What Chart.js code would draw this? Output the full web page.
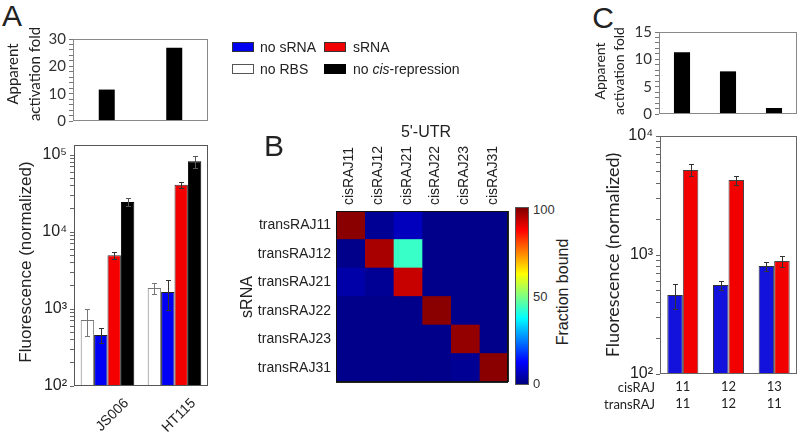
<!DOCTYPE html>
<html><head><meta charset="utf-8">
<script src="https://cdn.jsdelivr.net/npm/chart.js@4.4.0/dist/chart.umd.min.js"></script>
<style>
body{margin:0;background:#fff;width:805px;height:433px;overflow:hidden;position:relative;font-family:"Liberation Sans",Arial,sans-serif;color:#222}
canvas{position:absolute}
.t{position:absolute;white-space:nowrap;line-height:1}
.sw{position:absolute;width:20px;height:8px;box-sizing:content-box}
</style></head><body>
<canvas id="cAtop" width="174" height="110" style="left:38px;top:25px"></canvas>
<canvas id="cAbot" width="174" height="301" style="left:38px;top:132px"></canvas>
<canvas id="cHeat" width="262" height="267" style="left:250px;top:130px"></canvas>
<canvas id="cCtop" width="176" height="110" style="left:625px;top:18px"></canvas>
<canvas id="cCbot" width="181" height="310" style="left:620px;top:123px"></canvas>
<div id="cbar" style="position:absolute;left:515px;top:207px;width:12px;height:176px;border:1px solid #555;background:linear-gradient(to top,#000080 0%,#0000ff 12.5%,#00ffff 37.5%,#ffff00 62.5%,#ff0000 87.5%,#800000 100%)"></div>
<script>
// ---------------- data ----------------
const groupsA = ['JS006', 'HT115'];
const foldA = [11.5, 26.8];
const noRBS_A = [720, 1870];      const noRBS_A_err = [280, 280];
const noSRNA_A = [460, 1660];     const noSRNA_A_err = [100, 700];
const sRNA_A = [5000, 41000];     const sRNA_A_err = [550, 4000];
const noCis_A = [24500, 83000];   const noCis_A_err = [2800, 15000];

const cisC = ['11', '12', '13'];
const transC = ['11', '12', '11'];
const foldC = [11.3, 7.8, 1.1];
const noSRNA_C = [461, 560, 809]; const noSRNA_C_err = [110, 50, 70];
const sRNA_C = [5180, 4270, 890]; const sRNA_C_err = [600, 380, 100];

const cisCols = ['cisRAJ11', 'cisRAJ12', 'cisRAJ21', 'cisRAJ22', 'cisRAJ23', 'cisRAJ31'];
const transRows = ['transRAJ11', 'transRAJ12', 'transRAJ21', 'transRAJ22', 'transRAJ23', 'transRAJ31'];
const bound = [
  [99, 2, 6, 1, 1, 1],
  [1, 96, 43, 1, 1, 1],
  [4, 2, 93, 1, 1, 1],
  [1, 1, 1, 99, 1, 1],
  [1, 1, 1, 1, 98, 1],
  [1, 1, 1, 1, 2, 99]
];
const foldTicksA = [0, 10, 20, 30];
const foldTicksC = [0, 5, 10, 15];

// ---------------- helpers ----------------
const SANS = "'Liberation Sans', Arial, sans-serif";
const LATO = "Lato, 'Liberation Sans', sans-serif";
const SUP = {2: '\u00b2', 3: '\u00b3', 4: '\u2074', 5: '\u2075'};
function jet(v) {
  const x = v / 100;
  const c = t => Math.round(255 * Math.max(0, Math.min(1, 1.5 - Math.abs(4 * x - t))));
  return `rgb(${c(3)},${c(2)},${c(1)})`;
}
function logTicks(scale) {
  const t = [];
  const e0 = Math.floor(Math.log10(scale.min) + 1e-9), e1 = Math.ceil(Math.log10(scale.max) - 1e-9);
  for (let e = e0; e <= e1; e++) for (let d = 1; d <= 9; d++) {
    const v = d * Math.pow(10, e);
    if (v >= scale.min - 1e-6 && v <= scale.max + 1e-6) t.push({value: v});
  }
  scale.ticks = t;
}
function logLabel(v) {
  const l = Math.log10(v);
  const r = Math.round(l);
  return Math.abs(l - r) < 1e-6 ? '10' + (SUP[r] || r) : '';
}
const framePlugin = {
  id: 'frame',
  afterDraw(chart, args, opts) {
    const {ctx, chartArea: a} = chart;
    ctx.save();
    ctx.strokeStyle = opts.color || '#666';
    ctx.lineWidth = 1;
    const l = Math.round(a.left) + 0.5, t = Math.round(a.top) + 0.5;
    const r = Math.round(a.right) - 0.5, b = Math.round(a.bottom) - 0.5;
    ctx.strokeRect(l, t, r - l, b - t);
    ctx.restore();
  }
};
const errPlugin = {
  id: 'errbars',
  afterDatasetsDraw(chart) {
    const ctx = chart.ctx;
    chart.data.datasets.forEach((ds, di) => {
      if (!ds.errors) return;
      const meta = chart.getDatasetMeta(di);
      const ys = chart.scales[meta.yAxisID];
      ctx.save();
      ctx.strokeStyle = ds.errorColor || '#333';
      ctx.lineWidth = 1;
      meta.data.forEach((bar, i) => {
        const v = ds.data[i], e = ds.errors[i];
        const x = Math.round(bar.x) + 0.5;
        const yt = Math.round(ys.getPixelForValue(v + e)) + 0.5;
        const yb = Math.round(ys.getPixelForValue(v - e)) + 0.5;
        ctx.beginPath();
        ctx.moveTo(x, yt); ctx.lineTo(x, yb);
        ctx.moveTo(x - 2.5, yt); ctx.lineTo(x + 2.5, yt);
        ctx.moveTo(x - 2.5, yb); ctx.lineTo(x + 2.5, yb);
        ctx.stroke();
      });
      ctx.restore();
    });
  }
};
Chart.register(framePlugin, errPlugin);
Chart.defaults.font.family = SANS;
function opts(extra) {
  return Object.assign({responsive: false, animation: false, devicePixelRatio: 1}, extra);
}

function foldChart(id, labels, data, ticksShown, max, step, yWidth, pad, frameColor) {
  return new Chart(document.getElementById(id), {
    type: 'bar',
    data: {labels, datasets: [{data, backgroundColor: '#000', borderWidth: 0,
      barPercentage: labels.length === 2 ? 0.237 : 0.35, categoryPercentage: 1}]},
    options: opts({
      layout: {padding: pad},
      plugins: {legend: {display: false}, tooltip: {enabled: false}, frame: {color: frameColor}},
      scales: {
        x: {display: false},
        y: {min: 0, max, border: {display: false},
          grid: {drawOnChartArea: false, tickLength: 4, color: '#777'},
          ticks: {stepSize: step, autoSkip: false, padding: 3, color: '#333',
            font: {family: LATO, size: 15},
            callback: v => ticksShown.includes(v) ? String(v) : ''},
          afterFit: s => { s.width = yWidth; }}
      }
    })
  });
}

// ---------------- Panel A top ----------------
foldChart('cAtop', groupsA, foldA, foldTicksA, 30, 2, 35, {top: 14, bottom: 14, left: 0, right: 4}, '#888');

// ---------------- Panel A bottom ----------------
new Chart(document.getElementById('cAbot'), {
  type: 'bar',
  data: {labels: groupsA, datasets: [
    {data: noRBS_A, errors: noRBS_A_err, errorColor: '#777', backgroundColor: '#fff', borderColor: '#777', borderWidth: 1},
    {data: noSRNA_A, errors: noSRNA_A_err, backgroundColor: '#0000f5', borderColor: '#222', borderWidth: 1},
    {data: sRNA_A, errors: sRNA_A_err, backgroundColor: '#f50000', borderColor: '#333', borderWidth: 1},
    {data: noCis_A, errors: noCis_A_err, errorColor: '#555', backgroundColor: '#000', borderColor: '#000', borderWidth: 1}
  ].map(d => Object.assign(d, {barPercentage: 1, categoryPercentage: 0.8}))},
  options: opts({
    layout: {padding: {top: 13, right: 4, bottom: 0, left: 0}},
    plugins: {legend: {display: false}, tooltip: {enabled: false}, frame: {color: '#555'}},
    scales: {
      x: {grid: {display: false, drawTicks: false}, border: {display: false},
        ticks: {minRotation: 45, maxRotation: 45, labelOffset: 19, padding: 9, color: '#222',
          font: {family: SANS, size: 14}},
        afterFit: s => { s.height = 47; }},
      y: {type: 'logarithmic', min: 100, max: 135000, border: {display: false},
        grid: {drawOnChartArea: false, tickLength: 4, color: '#666'},
        afterBuildTicks: logTicks,
        ticks: {autoSkip: false, padding: 3, color: '#222', font: {family: SANS, size: 16},
          callback: logLabel},
        afterFit: s => { s.width = 36; }}
    }
  })
});

// ---------------- Panel B heatmap ----------------
new Chart(document.getElementById('cHeat'), {
  type: 'bar',
  data: {labels: transRows, datasets: cisCols.map((c, j) => ({
    label: c, data: transRows.map(() => 1),
    backgroundColor: bound.map(r => jet(r[j])),
    borderWidth: 0, barPercentage: 1, categoryPercentage: 1
  }))},
  options: opts({
    layout: {padding: {top: 0, right: 4, bottom: 15, left: 0}},
    indexAxis: 'y',
    plugins: {legend: {display: false}, tooltip: {enabled: false}, frame: {color: '#111'}},
    scales: {
      x: {type: 'linear', stacked: true, min: 0, max: 6, position: 'top', z: 1,
        ticks: {display: false, stepSize: 1}, grid: {color: 'rgba(0,0,0,0.85)', drawTicks: false},
        border: {display: false}, afterFit: s => { s.height = 0; }},
      xl: {type: 'category', labels: cisCols, position: 'top', offset: true,
        grid: {display: false, drawTicks: false}, border: {display: false},
        ticks: {minRotation: 90, maxRotation: 90, padding: 6, labelOffset: 16, color: '#222',
          font: {family: SANS, size: 14}},
        afterFit: s => { s.height = 81; }},
      y: {stacked: true, offset: true, z: 1,
        grid: {offset: true, color: 'rgba(0,0,0,0.85)', drawTicks: false},
        border: {display: false},
        ticks: {padding: 5, color: '#222', font: {family: SANS, size: 14}},
        afterFit: s => { s.width = 86; }}
    }
  })
});

// ---------------- Panel C top ----------------
foldChart('cCtop', cisC, foldC, foldTicksC, 15, 1, 34, {top: 14, bottom: 14, left: 0, right: 4}, '#888');

// ---------------- Panel C bottom ----------------
new Chart(document.getElementById('cCbot'), {
  type: 'bar',
  data: {labels: cisC.map((c, i) => [c, transC[i]]), datasets: [
    {data: noSRNA_C, errors: noSRNA_C_err, backgroundColor: '#1212dc', borderColor: '#333', borderWidth: 1},
    {data: sRNA_C, errors: sRNA_C_err, backgroundColor: '#f20000', borderColor: '#444', borderWidth: 1}
  ].map(d => Object.assign(d, {barPercentage: 1, categoryPercentage: 0.68}))},
  options: opts({
    layout: {padding: {top: 13, right: 4, bottom: 0, left: 0}},
    plugins: {legend: {display: false}, tooltip: {enabled: false}, frame: {color: '#666'}},
    scales: {
      x: {grid: {display: false, drawTicks: false}, border: {display: false},
        ticks: {padding: 4, color: '#222', font: {family: LATO, size: 13, lineHeight: '17px'}},
        afterFit: s => { s.height = 59; }},
      y: {type: 'logarithmic', min: 100, max: 10000, border: {display: false},
        grid: {drawOnChartArea: false, tickLength: 4, color: '#666'},
        afterBuildTicks: logTicks,
        ticks: {autoSkip: false, padding: 3, color: '#222', font: {family: SANS, size: 16},
          callback: logLabel},
        afterFit: s => { s.width = 40; }}
    }
  })
});

// ---------------- HTML text ----------------
function label(text, cx, cy, size, o = {}) {
  const d = document.createElement('div');
  d.className = 't';
  d.innerHTML = text;
  const tr = o.align === 'left' ? 'translate(0,-50%)' : o.align === 'right' ? 'translate(-100%,-50%)' : 'translate(-50%,-50%)';
  d.style.cssText = `left:${cx}px;top:${cy}px;font-size:${size}px;font-family:${o.family || SANS};` +
    `color:${o.color || '#222'};transform:${tr}${o.rot ? ' rotate(-90deg)' : ''};text-align:center;` +
    (o.lh ? `line-height:${o.lh}px;` : '');
  document.body.appendChild(d);
}
function swatch(x, y, color, border) {
  const d = document.createElement('div');
  d.className = 'sw';
  d.style.cssText += `left:${x}px;top:${y}px;background:${color};border:1px solid ${border};`;
  document.body.appendChild(d);
}
label('A', 12, 16, 30);
label('B', 274, 146, 30);
label('C', 603, 18, 30);
label('Apparent<br>activation fold', 23, 74, 15, {rot: true, family: LATO, lh: 22});
label('Fluorescence (normalized)', 25, 262, 17, {rot: true});
label('Apparent<br>activation fold', 609, 71, 14, {rot: true, family: LATO, lh: 19});
label('Fluorescence (normalized)', 612, 255, 18, {rot: true, family: LATO});
label('cisRAJ', 655, 387, 13, {align: 'right', family: LATO});
label('transRAJ', 655, 404, 13, {align: 'right', family: LATO});
label("5'-UTR", 426, 132, 16);
label('sRNA', 247, 297, 16, {rot: true});
label('100', 533, 209, 13, {align: 'left', color: '#333'});
label('50', 533, 296, 13, {align: 'left', color: '#333'});
label('0', 533, 383, 13, {align: 'left', color: '#333'});
label('Fraction bound', 563, 292, 16, {rot: true});
swatch(232, 42, '#0000f0', '#333');
swatch(324, 42, '#f00000', '#333');
swatch(232, 64, '#fff', '#555');
swatch(324, 64, '#000', '#000');
label('no sRNA', 260, 47, 14, {align: 'left'});
label('sRNA', 353, 47, 14, {align: 'left'});
label('no RBS', 260, 69, 14, {align: 'left'});
label('no <i>cis</i>-repression', 353, 69, 14, {align: 'left'});
</script>
</body></html>
